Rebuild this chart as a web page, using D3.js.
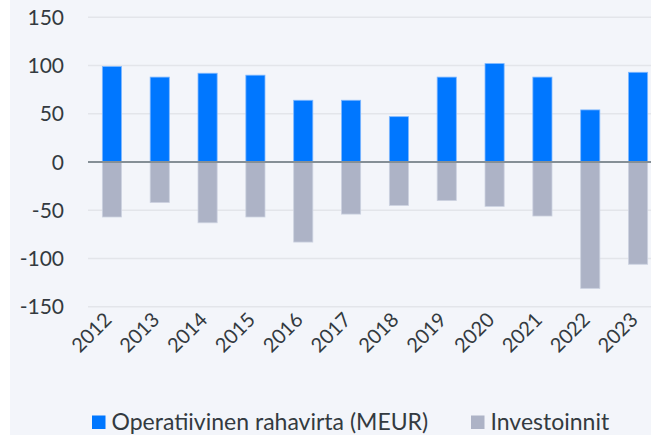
<!DOCTYPE html>
<html>
<head>
<meta charset="utf-8">
<script src="https://cdn.jsdelivr.net/npm/d3@7"></script>
<style>
  body { margin: 0; background: #ffffff; }
  text { font-family: Lato, "Open Sans", sans-serif; fill: #333a40; }
</style>
</head>
<body>
<script>
var years = ["2012", "2013", "2014", "2015", "2016", "2017", "2018", "2019", "2020", "2021", "2022", "2023"];
var operating = [99, 88, 92, 90, 64, 64, 47, 88, 102, 88, 54, 93];
var investments = [-57, -42, -63, -57, -83, -54, -45, -40, -46, -56, -131, -106];
var yTicks = [-150, -100, -50, 0, 50, 100, 150];
var seriesNames = ["Operatiivinen rahavirta (MEUR)", "Investoinnit"];

var width = 651;
var height = 435;

var svg = d3.select("body")
  .append("svg")
  .attr("width", width)
  .attr("height", height);

svg.append("rect")
  .attr("x", 10)
  .attr("y", 0)
  .attr("width", width - 10)
  .attr("height", height)
  .attr("fill", "#f3f5fa");

var xScale = d3.scaleBand().domain(years).range([88, 662]).paddingInner(0.6).paddingOuter(0.3);
var yScale = d3.scaleLinear().domain([-150, 150]).range([306.7, 17.3]);

// grid
svg.selectAll(".grid")
  .data(yTicks.filter(d => d !== 0))
  .enter()
  .append("line")
  .attr("x1", 88)
  .attr("x2", width)
  .attr("y1", d => yScale(d))
  .attr("y2", d => yScale(d))
  .attr("stroke", "#e3e5ea")
  .attr("stroke-width", 1.5);

svg.selectAll(".ylabel")
  .data(yTicks)
  .enter()
  .append("text")
  .attr("x", 64)
  .attr("y", d => yScale(d))
  .attr("dy", "0.36em")
  .attr("text-anchor", "end")
  .attr("font-size", 21)
  .text(d => d);

svg.selectAll(".pos")
  .data(operating)
  .enter()
  .append("rect")
  .attr("x", (d, i) => xScale(years[i]))
  .attr("width", xScale.bandwidth())
  .attr("y", d => yScale(d))
  .attr("height", d => yScale(0) - yScale(d))
  .attr("fill", "#0077ff")
  .attr("stroke", "#7fb8ff")
  .attr("stroke-width", 0.8);

svg.selectAll(".neg")
  .data(investments)
  .enter()
  .append("rect")
  .attr("x", (d, i) => xScale(years[i]))
  .attr("width", xScale.bandwidth())
  .attr("y", yScale(0))
  .attr("height", d => yScale(d) - yScale(0))
  .attr("fill", "#adb3c6")
  .attr("stroke", "#ccd2e0")
  .attr("stroke-width", 0.8);

svg.append("line")
  .attr("x1", 88)
  .attr("x2", width)
  .attr("y1", yScale(0))
  .attr("y2", yScale(0))
  .attr("stroke", "#858f96")
  .attr("stroke-width", 2);

svg.selectAll(".xlabel")
  .data(years)
  .enter()
  .append("text")
  .attr("text-anchor", "end")
  .attr("font-size", 20)
  .attr("transform", d => "translate(" + (xScale(d) + xScale.bandwidth() / 2 + 1) + ",321) rotate(-45)")
  .text(d => d);

// legend
var legendX = [92, 471];
var colors = ["#0077ff", "#adb3c6"];
seriesNames.forEach(function(name, i) {
  svg.append("rect")
    .attr("x", legendX[i])
    .attr("y", 415.5)
    .attr("width", 13.5)
    .attr("height", 13.5)
    .attr("fill", colors[i]);
  svg.append("text")
    .attr("x", legendX[i] + 19.5)
    .attr("y", 429.5)
    .attr("font-size", 23)
    .text(name);
});
</script>
</body>
</html>
